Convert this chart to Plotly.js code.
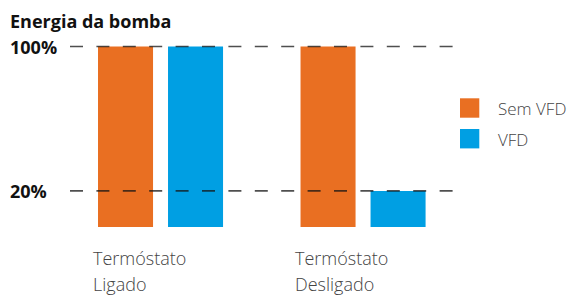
<!DOCTYPE html>
<html>
<head>
<meta charset="utf-8">
<script src="https://cdn.plot.ly/plotly-3.0.1.min.js"></script>
<style>html,body{margin:0;padding:0;background:#fff;}#chart{width:577px;height:296px;}</style>
</head>
<body>
<div id="chart"></div>
<script>
// ---- data ----
const categories = ['Termóstato Ligado', 'Termóstato Desligado'];
const categoryLine1 = ['Termóstato', 'Termóstato'];
const categoryLine2 = ['Ligado', 'Desligado'];
const seriesNames = ['Sem VFD', 'VFD'];
const semVFD = [100, 100];
const vfd = [100, 20];
const tickVals = [20, 100];
const tickText = ['20%', '100%'];
const chartTitle = 'Energia da bomba';
const seriesColors = ['#E96F22', '#009FE3'];

// ---- traces ----
const seriesValues = [semVFD, vfd];
const traces = seriesNames.map((name, i) => ({
  type: 'bar',
  name: name,
  x: categories,
  y: seriesValues[i],
  marker: {color: seriesColors[i]},
  showlegend: false,
  hoverinfo: 'skip'
}));

// plot area: x 70..455 px, y 30..230 px
const plotL = 70, plotR = 455, plotT = 30, plotB = 230, W = 577, H = 296;
const pw = plotR - plotL, ph = plotB - plotT;
const px2paperX = p => (p - plotL) / pw;
const px2paperY = p => (plotB - p) / ph;

const shapes = [];
const annotations = [];

// dashed reference lines above bars, from tick values
tickVals.forEach(v => {
  shapes.push({type: 'line', xref: 'paper', yref: 'y', x0: 0, x1: 1, y0: v, y1: v,
    layer: 'above', line: {color: 'rgba(20,20,20,0.75)', width: 1.6, dash: '13px,13.4px'}});
});
// left-aligned tick labels
tickVals.forEach((v, i) => {
  annotations.push({xref: 'paper', yref: 'y', x: px2paperX(8), y: v, xanchor: 'left', yanchor: 'middle',
    text: tickText[i], showarrow: false,
    font: {family: 'Open Sans', size: 18, weight: 'bold', color: '#111'}});
});
// category labels (two lines, left aligned)
categories.forEach((c, i) => {
  annotations.push({xref: 'x', yref: 'paper', x: c, xshift: -70, y: px2paperY(257.5), xanchor: 'left', yanchor: 'middle',
    text: categoryLine1[i], showarrow: false,
    font: {family: 'Open Sans', size: 18, weight: 300, color: '#444'}});
  annotations.push({xref: 'x', yref: 'paper', x: c, xshift: -70, y: px2paperY(284), xanchor: 'left', yanchor: 'middle',
    text: categoryLine2[i], showarrow: false,
    font: {family: 'Open Sans', size: 18, weight: 300, color: '#444'}});
});
// legend
const legTop = [98.3, 129];
seriesNames.forEach((n, i) => {
  shapes.push({type: 'rect', xref: 'paper', yref: 'paper',
    x0: px2paperX(460), x1: px2paperX(479.3), y0: px2paperY(legTop[i] + 19.4), y1: px2paperY(legTop[i]),
    fillcolor: seriesColors[i], line: {width: 0}});
  annotations.push({xref: 'paper', yref: 'paper', x: px2paperX(496), y: px2paperY(legTop[i] + 10), xanchor: 'left', yanchor: 'middle',
    text: n, showarrow: false, font: {family: 'Open Sans', size: 17, weight: 300, color: '#444'}});
});

const layout = {
  width: W, height: H,
  margin: {l: plotL, r: W - plotR, t: plotT, b: H - plotB, pad: 0},
  paper_bgcolor: '#fff', plot_bgcolor: '#fff',
  title: {text: '<b>' + chartTitle + '</b>', xref: 'container', yref: 'container', x: 10 / W, xanchor: 'left',
    y: 1 - 22 / H, yanchor: 'middle', font: {family: 'Open Sans', size: 18, color: '#111'}},
  barmode: 'group', bargap: 0.3086, bargroupgap: 0.214,
  xaxis: {range: [-0.447, 1.454], showticklabels: false, showgrid: false, zeroline: false, showline: false, ticks: ''},
  yaxis: {range: [-1.662, 109.14], showticklabels: false, showgrid: false, zeroline: false, showline: false, ticks: ''},
  shapes: shapes, annotations: annotations, showlegend: false
};

Plotly.newPlot('chart', traces, layout, {staticPlot: true, displayModeBar: false});
</script>
</body>
</html>
